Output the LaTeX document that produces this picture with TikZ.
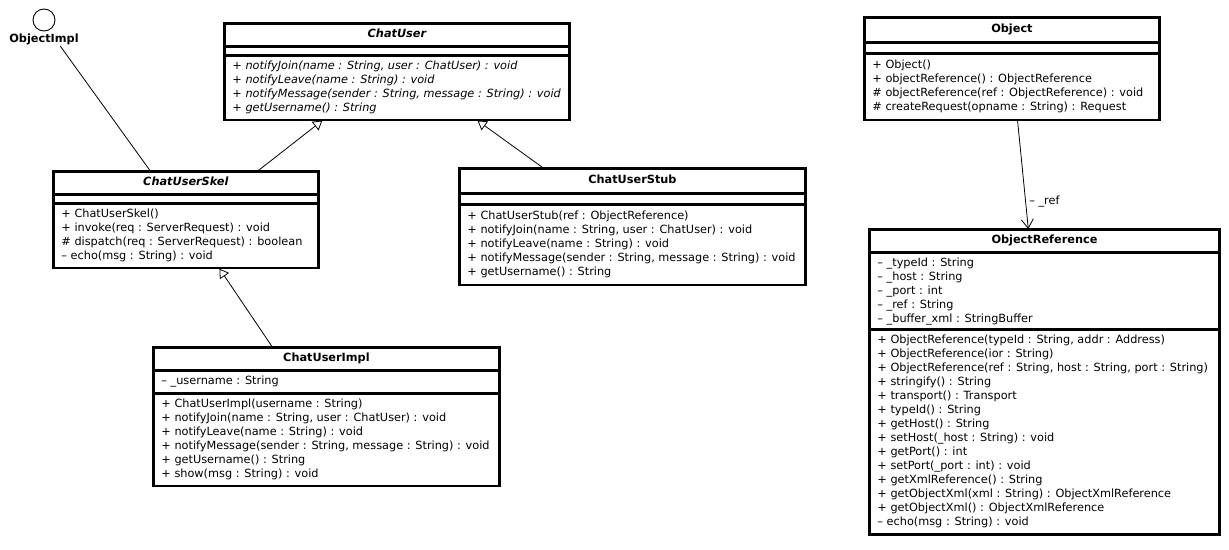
\documentclass[tikz,border=0pt]{standalone}
\usepackage{fontspec}
\setmainfont{DejaVu Sans}
\usepackage{tikz}
\usetikzlibrary{shapes.multipart,arrows.meta,positioning,calc}
\newcommand\umlfont{\fontsize{11.3}{14}\selectfont}
\newcommand\noattr{\rule{1pt}{0pt}}
\tikzset{
  cls/.style={rectangle split, rectangle split parts=3, draw=black, line width=0.9pt, fill=white,
              minimum width=#1, align=left, rectangle split part align={center,left,left},
              inner xsep=8pt, inner ysep=4pt,
              font=\umlfont, postaction={draw=black, line width=2.6pt}},
  cls/.default=300pt,
  gen/.style={-{Triangle[open, length=9pt, width=11pt]}, line width=0.8pt},
  assoc/.style={-{Straight Barb[length=9pt, width=12pt]}, line width=0.8pt},
}

\begin{document}
\begin{tikzpicture}[x=1pt, y=-1pt]
\useasboundingbox (0,0) rectangle (1229,549);

% Interface
\node[draw, circle, line width=0.9pt, minimum size=22pt, inner sep=0pt] (objimpl) at (44,20) {};
\node[below=1pt of objimpl, inner sep=1pt, font=\umlfont\bfseries] (objimpllbl) {ObjectImpl};

% ChatUser
\node[cls=345pt, anchor=north west, font=\umlfont\itshape] (chatuser) at (224,23)
  {\strut\textbf{ChatUser}%
   \nodepart{two}\noattr%
   \nodepart{three}\strut + notifyJoin(name : String, user : ChatUser) : void\\
   + notifyLeave(name : String) : void\\
   + notifyMessage(sender : String, message : String) : void\\
   + getUsername() : String\strut};

% Skeleton
\node[cls=265pt, anchor=north west] (skel) at (53,171)
  {\strut\textbf{\textit{ChatUserSkel}}%
   \nodepart{two}\noattr%
   \nodepart{three}\strut + ChatUserSkel()\\
   + invoke(req : ServerRequest) : void\\
   \# dispatch(req : ServerRequest) : boolean\\
   -- echo(msg : String) : void\strut};

% Stub
\node[cls=346pt, anchor=north west, inner ysep=5pt] (stub) at (459,168)
  {\strut\textbf{ChatUserStub}%
   \nodepart{two}\noattr%
   \nodepart{three}\strut + ChatUserStub(ref : ObjectReference)\\
   + notifyJoin(name : String, user : ChatUser) : void\\
   + notifyLeave(name : String) : void\\
   + notifyMessage(sender : String, message : String) : void\\
   + getUsername() : String\strut};

% Implementation
\node[cls=346pt, anchor=north west] (impl) at (153,347)
  {\strut\textbf{ChatUserImpl}%
   \nodepart{two}\strut -- \_username : String%
   \nodepart{three}\strut + ChatUserImpl(username : String)\\
   + notifyJoin(name : String, user : ChatUser) : void\\
   + notifyLeave(name : String) : void\\
   + notifyMessage(sender : String, message : String) : void\\
   + getUsername() : String\\
   + show(msg : String) : void\strut};

% Object
\node[cls=295pt, anchor=north west, inner ysep=5pt] (object) at (864,17)
  {\strut\textbf{Object}%
   \nodepart{two}\noattr%
   \nodepart{three}\strut + Object()\\
   + objectReference() : ObjectReference\\
   \# objectReference(ref : ObjectReference) : void\\
   \# createRequest(opname : String) : Request\strut};

% Object reference
\node[cls=350pt, anchor=north west] (objref) at (869,229)
  {\strut\textbf{ObjectReference}%
   \nodepart{two}\strut -- \_typeId : String\\
   -- \_host : String\\
   -- \_port : int\\
   -- \_ref : String\\
   -- \_buffer\_xml : StringBuffer%
   \nodepart{three}\strut + ObjectReference(typeId : String, addr : Address)\\
   + ObjectReference(ior : String)\\
   + ObjectReference(ref : String, host : String, port : String)\\
   + stringify() : String\\
   + transport() : Transport\\
   + typeId() : String\\
   + getHost() : String\\
   + setHost(\_host : String) : void\\
   + getPort() : int\\
   + setPort(\_port : int) : void\\
   + getXmlReference() : String\\
   + getObjectXml(xml : String) : ObjectXmlReference\\
   + getObjectXml() : ObjectXmlReference\\
   -- echo(msg : String) : void\strut};

% Realization
\draw[line width=0.8pt] ($(objimpllbl.south)!0.45!(objimpllbl.south east)$) -- ($(skel.north west)!0.366!(skel.north east)$);

% Generalizations
\draw[gen] ($(skel.north west)!0.77!(skel.north east)$) -- ($(chatuser.south west)!0.284!(chatuser.south east)$);
\draw[gen] ($(stub.north west)!0.243!(stub.north east)$) -- ($(chatuser.south west)!0.733!(chatuser.south east)$);
\draw[gen] ($(impl.north west)!0.344!(impl.north east)$) -- ($(skel.south west)!0.626!(skel.south east)$);

% Association
\draw[assoc] ($(object.south west)!0.519!(object.south east)$) -- node[pos=0.75, right, font=\umlfont] {-- \_ref} ($(objref.north west)!0.454!(objref.north east)$);

\end{tikzpicture}
\end{document}
